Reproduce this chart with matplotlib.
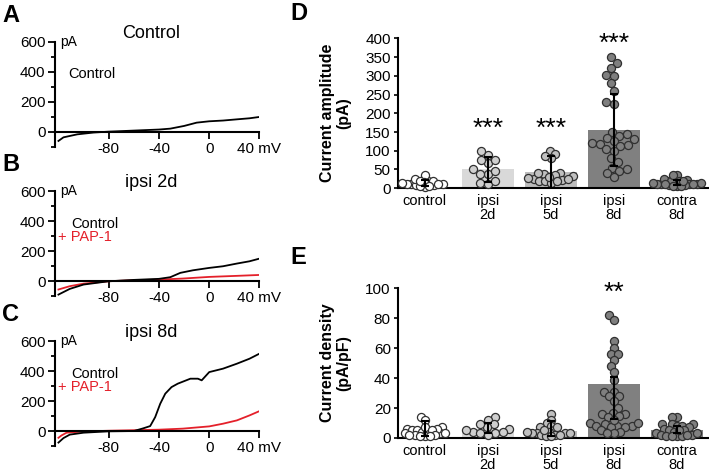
import matplotlib.pyplot as plt
import numpy as np

plt.rcParams['font.family'] = ['Liberation Sans', 'DejaVu Sans']

# ---- I-V traces (mV, pA) ----
v_a = [-120, -116, -105, -92, -80, -60, -40, -31, -20, -10, 0, 11, 22, 32, 40]
i_a = [-60, -36, -16, -4, 2, 9, 16, 22, 40, 62, 71, 76, 84, 91, 100]

v_b_ctrl = [-120, -111, -100, -80, -60, -40, -31, -23, -13, 0, 11, 22, 32, 40]
i_b_ctrl = [-89, -51, -22, 0, 9, 16, 27, 56, 73, 89, 100, 118, 133, 151]
v_b_pap = [-120, -111, -100, -80, -60, -40, -21, 0, 22, 40]
i_b_pap = [-55, -33, -16, 0, 7, 11, 18, 29, 36, 42]

v_c_ctrl = [-120, -116, -111, -100, -80, -60, -52.5, -47, -43, -39, -35, -30, -25, -15, -9, -6, 0, 11, 22, 32, 40]
i_c_ctrl = [-77, -47, -24, -11, -2, 0, 18, 33, 93, 182, 249, 293, 316, 349, 349, 338, 393, 416, 449, 482, 516]
v_c_pap = [-120, -117.5, -113.5, -100, -80, -40, -21, 0, 11, 22, 32, 40]
i_c_pap = [-45, -29, -11, -3, 2, 9, 16, 31, 49, 71, 104, 133]

# ---- D / E group data ----
groups = ['control', 'ipsi\n2d', 'ipsi\n5d', 'ipsi\n8d', 'contra\n8d']

amp_control = [4, 8, 10, 12, 14, 8, 6, 18, 36, 12, 20, 16, 24, 10, 20, 6]
amp_ipsi2 = [14, 66, 88, 37, 76, 46, 100, 11, 50, 39, 19, 76]
amp_ipsi5 = [100, 92, 80, 85, 40, 38, 32, 25, 20, 18, 15, 40, 35, 28, 22, 18, 30, 25]
amp_ipsi8 = [350, 335, 320, 302, 300, 280, 260, 230, 225, 150, 145, 140, 135, 130,
             125, 120, 118, 115, 112, 105, 100, 80, 70, 55, 50, 45, 40, 30]
amp_contra = [35, 8, 5, 12, 15, 10, 18, 20, 22, 15, 10, 25, 12, 8, 18, 15, 10, 5, 35, 12, 6, 20]
amp_bar = [12, 50, 42, 155, 15]
amp_err_lo = [5, 17, 0, 58, 8]
amp_err_hi = [22, 83, 85, 252, 22]

den_control = [14, 12, 7, 6, 5, 5, 4, 4, 3, 3, 2, 2, 1, 1, 7, 6, 5, 3, 2, 1]
den_ipsi2 = [14, 12, 9, 7, 6, 4, 3, 3, 2, 9, 5, 4]
den_ipsi5 = [16, 12, 10, 8, 7, 5, 4, 3, 3, 2, 2, 1, 1, 5, 4, 3, 2, 7, 3]
den_ipsi8 = [82, 79, 65, 60, 56, 56, 52, 48, 44, 39, 31, 31, 28, 28, 25, 20, 17, 16,
             16, 15, 14, 10, 9, 8, 8, 8, 7, 7, 5, 4, 3, 3, 12, 10]
den_contra = [14, 14, 9, 9, 9, 8, 8, 7, 6, 5, 5, 4, 3, 2, 2, 1, 1, 1, 1, 5, 3, 2]
den_bar = [5, 6, 4.5, 36, 5]
den_err_lo = [1, 3, 1, 13, 3]
den_err_hi = [11, 10, 11, 41, 8]

bar_colors = ['white', '#d9d9d9', '#bdbdbd', '#808080', '#808080']
dot_colors = ['white', '#cfcfcf', '#c0c0c0', '#7f7f7f', '#7f7f7f']
red = '#e4202a'


def swarm(ax, xc, vals, d):
    # simple beeswarm: put each dot as close to the centre as it can go
    pts = ax.transData.transform(np.column_stack([np.full(len(vals), xc), vals]))
    order = np.argsort(pts[:, 1])
    placed = []
    out = np.zeros(len(vals))
    for k in order:
        px, py = pts[k]
        cands = [px]
        for qx, qy in placed:
            dy = py - qy
            if abs(dy) < d:
                dx = np.sqrt(d * d - dy * dy)
                cands += [qx - dx, qx + dx]
        cands.sort(key=lambda c: abs(c - px))
        for c in cands:
            if all((c - qx) ** 2 + (py - qy) ** 2 >= d * d - 1e-3 for qx, qy in placed):
                placed.append((c, py))
                out[k] = c
                break
    back = ax.transData.inverted().transform(np.column_stack([out, pts[:, 1]]))
    return back[:, 0]


def swarm_fit(ax, xc, vals, d, half):
    # shrink the spacing (dots overlap a bit) until the swarm fits the bar
    xs = swarm(ax, xc, vals, d)
    while np.max(np.abs(xs - xc)) > half and d > 2:
        d *= 0.94
        xs = swarm(ax, xc, vals, d)
    return xs


fig = plt.figure(figsize=(7.09, 4.74), dpi=100)


def iv_panel(rect, title, traces, letter, show_pap):
    ax = fig.add_axes(rect)
    for v, i, c in traces:
        ax.plot(v, i, color=c, lw=1.3)
    ax.set_xlim(-122.5, 40)
    ax.set_ylim(-100, 600)
    ax.spines['top'].set_visible(False)
    ax.spines['right'].set_visible(False)
    ax.spines['bottom'].set_position(('data', 0))
    ax.spines['left'].set_linewidth(1.5)
    ax.spines['bottom'].set_linewidth(1.5)
    ax.set_xticks([-80, -40, 0, 40])
    ax.set_xticklabels(['-80', '-40', '0', '40 mV'])
    ax.set_yticks([0, 200, 400, 600])
    ax.set_yticks([-100, 100, 300, 500], minor=True)
    ax.tick_params(axis='both', which='major', length=5, width=1.3, labelsize=11, pad=2)
    ax.tick_params(axis='y', which='minor', length=3, width=1.3)
    ax.text(-119, 600, 'pA', fontsize=10, ha='left', va='center')
    ax.text(0.47, 1.0, title, transform=ax.transAxes, fontsize=13, ha='center', va='bottom')
    if show_pap:
        ax.text(-110, 382, 'Control', fontsize=10.5, ha='left', va='center')
        ax.text(-120, 292, '+ PAP-1', fontsize=10.5, ha='left', va='center', color=red)
    else:
        ax.text(-112, 387, 'Control', fontsize=10.5, ha='left', va='center')
    fig.text(0.003, rect[1] + rect[3] + 0.08, letter, fontsize=17, fontweight='bold', va='top')
    return ax


iv_panel([0.078, 0.690, 0.288, 0.2215], 'Control', [(v_a, i_a, 'black')], 'A', False)
iv_panel([0.078, 0.375, 0.288, 0.2215], 'ipsi 2d',
         [(v_b_pap, i_b_pap, red), (v_b_ctrl, i_b_ctrl, 'black')], 'B', True)
iv_panel([0.078, 0.059, 0.288, 0.2215], 'ipsi 8d',
         [(v_c_pap, i_c_pap, red), (v_c_ctrl, i_c_ctrl, 'black')], 'C', True)


def bar_panel(rect, data, bars, lo, hi, ymax, step, ylabel, letter, letter_y):
    ax = fig.add_axes(rect)
    x = np.arange(len(groups))
    ax.set_xlim(-0.43, 4.49)
    ax.set_ylim(0, ymax)
    ax.bar(x, bars, width=0.83, color=bar_colors, zorder=1)
    for k, vals in enumerate(data):
        xs = swarm_fit(ax, k, vals, 8.0, 0.38)
        ax.scatter(xs, vals, s=34, facecolor=dot_colors[k], edgecolor='#303030',
                   linewidth=0.9, zorder=3, clip_on=False)
    ax.errorbar(x, bars, yerr=[np.array(bars) - np.array(lo), np.array(hi) - np.array(bars)],
                fmt='none', ecolor='black', elinewidth=1.5, capsize=3, capthick=1.5, zorder=4)
    ax.spines['top'].set_visible(False)
    ax.spines['right'].set_visible(False)
    ax.spines['left'].set_linewidth(1.5)
    ax.spines['bottom'].set_linewidth(1.5)
    ax.set_xticks(x)
    ax.set_xticklabels(groups, linespacing=1.05)
    ax.set_yticks(np.arange(0, ymax + 1, step))
    ax.tick_params(axis='x', length=0, labelsize=10.5, pad=4)
    ax.tick_params(axis='y', length=3, width=1.2, labelsize=11, pad=2)
    ax.set_ylabel(ylabel, fontsize=11.5, fontweight='bold', linespacing=1.1)
    ax.yaxis.set_label_coords(-0.15, 0.5)
    fig.text(0.41, letter_y, letter, fontsize=17, fontweight='bold', va='top')
    return ax


axd = bar_panel([0.561, 0.603, 0.437, 0.316],
                [amp_control, amp_ipsi2, amp_ipsi5, amp_ipsi8, amp_contra],
                amp_bar, amp_err_lo, amp_err_hi, 400, 50, 'Current amplitude\n(pA)', 'D', 0.995)
for k, yy in [(1, 158), (2, 158), (3, 386)]:
    axd.text(k, yy, '***', fontsize=19, ha='center', va='center')

axe = bar_panel([0.561, 0.076, 0.437, 0.316],
                [den_control, den_ipsi2, den_ipsi5, den_ipsi8, den_contra],
                den_bar, den_err_lo, den_err_hi, 100, 20, 'Current density\n(pA/pF)', 'E', 0.48)
axe.text(3, 97, '**', fontsize=19, ha='center', va='center')

fig.savefig('out.png', dpi=100)
